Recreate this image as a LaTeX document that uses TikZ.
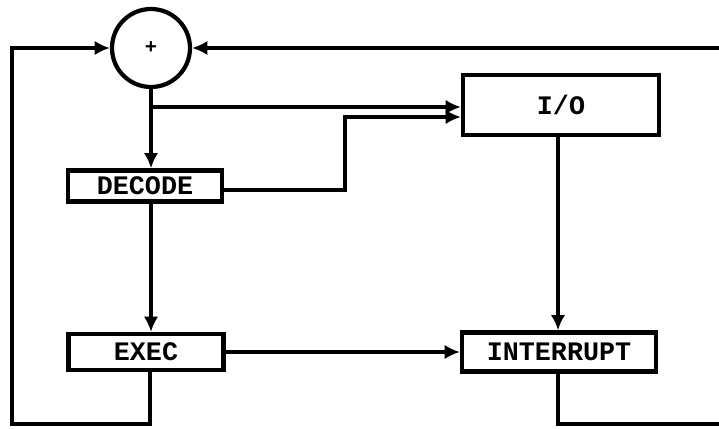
\documentclass[tikz,border=0pt]{standalone}
\usepackage{fontspec}
\setmonofont{Liberation Mono}
\usepackage{tikz}
\usetikzlibrary{positioning, calc, arrows.meta}

\begin{document}
\begin{tikzpicture}[
        adder/.style={circle, draw, line width=3pt, minimum size=1.95cm, inner sep=0pt, font=\ttfamily\bfseries\Large},
        stage/.style={rectangle, draw, line width=3pt, minimum height=0.8cm, align=center, font=\ttfamily\bfseries\fontsize{19}{21}\selectfont},
        wire/.style={line width=3pt},
        arrow/.style={wire, -{Latex[length=0.38cm, width=0.36cm]}}
    ]
        \useasboundingbox (0,0) rectangle (17.975,10.7);
        \clip (0,0) rectangle (17.975,10.7);

        \node[adder] (plus) at (3.775, 9.5) {+};
        \node[stage, minimum width=3.85cm, minimum height=0.78cm] (decode) at (3.625, 6.05) {DECODE};
        \node[stage, minimum width=3.88cm, minimum height=0.9cm] (exec) at (3.65, 1.9) {EXEC};
        \node[stage, minimum width=4.9cm, minimum height=1.5cm] (io) at (14.025, 8.075) {I/O};
        \node[stage, minimum width=4.85cm, minimum height=0.98cm] (intr) at (13.975, 1.9) {INTERRUPT};

        \coordinate (fork) at (plus.south |- 0, 8.025);
        \coordinate (bend) at (8.625, 5.95);

        \draw[arrow] (plus.south) -- (plus.south |- decode.north);
        \draw[arrow] (fork) -- (fork -| io.west);
        \draw[arrow] (decode.east |- bend) -- (bend) |- ($(io.west) + (0, -0.3)$);
        \draw[arrow] (decode.south -| plus) -- (exec.north -| plus);
        \draw[arrow] (exec.east) -- (intr.west);
        \draw[arrow] (io.south -| 13.95, 0) -- (intr.north -| 13.95, 0);

        % loops back to the adder
        \draw[arrow] (exec.south -| 3.75, 0) -- (3.75, 0.1) -- (0.3, 0.1) |- (plus.west);
        \draw[arrow] (intr.south -| 13.95, 0) -- (13.95, 0.1) -- (18.4, 0.1) |- (plus.east);
    \end{tikzpicture}
\end{document}
